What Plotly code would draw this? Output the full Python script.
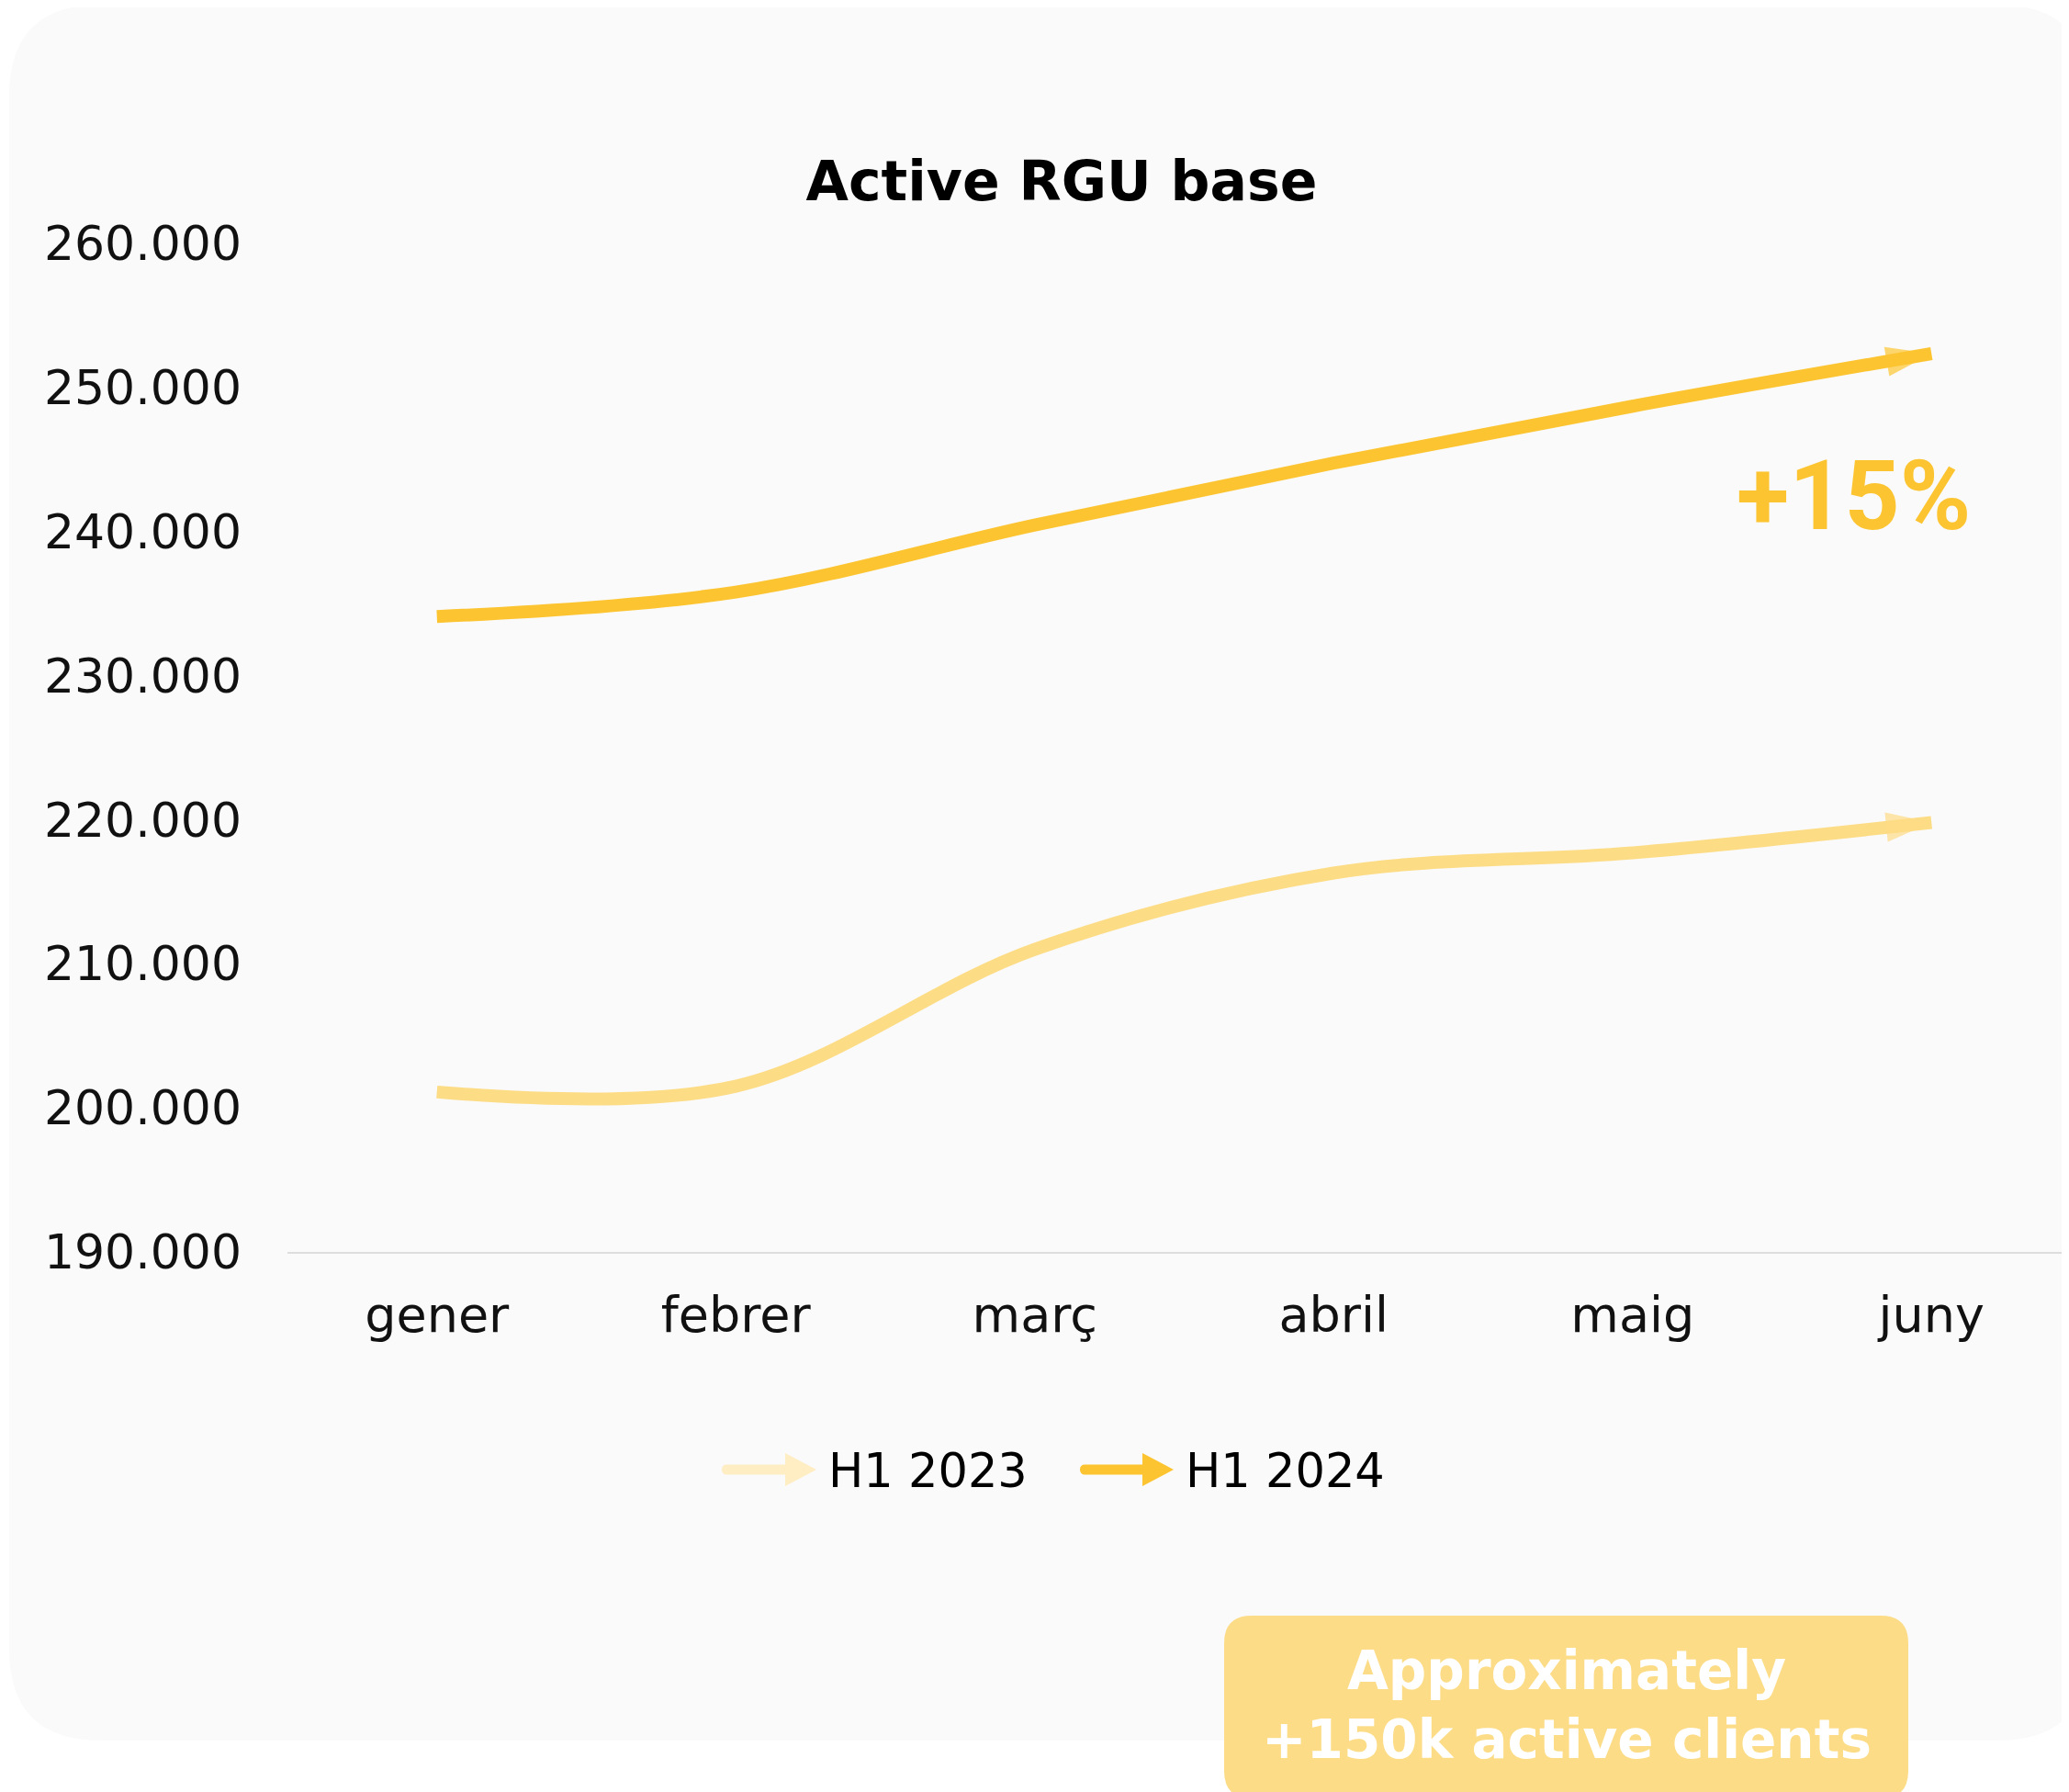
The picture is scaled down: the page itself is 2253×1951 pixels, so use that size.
import plotly.graph_objects as go

# ---------------- data ----------------
months = ["gener", "febrer", "març", "abril", "maig", "juny"]
h1_2023 = [201100, 201500, 211000, 216300, 217700, 219800]
h1_2024 = [234100, 235800, 240450, 244750, 248700, 252350]
series_names = ["H1 2023", "H1 2024"]
y_ticks = [190000, 200000, 210000, 220000, 230000, 240000, 250000, 260000]

# ---------------- geometry ----------------
OFF = 8                      # default page body margin
W, H = 2253 - OFF, 1951 - OFF
ML, MR, MT, MB = 313 - OFF, 0, 265 - OFF, 1951 - 1363
PW = W - ML - MR
PH = H - MT - MB

def px(x):                   # screen x -> paper
    return (x - OFF - ML) / PW

def py(y):                   # screen y -> paper
    return (H - MB - (y - OFF)) / PH

C2023 = "#FDDC86"
C2024 = "#FCC430"
C2023_LEG = "#FFEDC4"
FONT = "DejaVu Sans"

fig = go.Figure()
for name, vals, col in [(series_names[0], h1_2023, C2023), (series_names[1], h1_2024, C2024)]:
    fig.add_trace(go.Scatter(
        x=months, y=vals, name=name, mode="lines+markers", showlegend=False,
        line=dict(color=col, width=14, shape="spline", smoothing=1),
        marker=dict(symbol=["circle"] * 5 + ["arrow"], size=[0] * 5 + [52],
                    angleref="previous", color=col, line=dict(width=0)),
        hoverinfo="skip",
    ))

def P(x, y):
    return f"{px(x):.6f},{py(y):.6f}"

def rounded_path(x0, y0, x1, y1, r):
    return (f"M {P(x0 + r, y0)} L {P(x1 - r, y0)} Q {P(x1, y0)} {P(x1, y0 + r)} "
            f"L {P(x1, y1 - r)} Q {P(x1, y1)} {P(x1 - r, y1)} L {P(x0 + r, y1)} "
            f"Q {P(x0, y1)} {P(x0, y1 - r)} L {P(x0, y0 + r)} Q {P(x0, y0)} {P(x0 + r, y0)} Z")

def legend_arrow(x0, xb, xt, yc, t=5.5, hw=18):
    return (f"M {P(x0 + t, yc - t)} L {P(xb, yc - t)} L {P(xb, yc - hw)} L {P(xt, yc)} "
            f"L {P(xb, yc + hw)} L {P(xb, yc + t)} L {P(x0 + t, yc + t)} "
            f"Q {P(x0, yc + t)} {P(x0, yc)} Q {P(x0, yc - t)} {P(x0 + t, yc - t)} Z")

shapes = [
    dict(type="path", xref="paper", yref="paper", layer="below",
         path=rounded_path(10, 5, 2275, 1895, 100),
         fillcolor="#FAFAFA", line=dict(width=0)),
    dict(type="path", xref="paper", yref="paper", layer="above",
         path=rounded_path(1333, 1759, 2078, 1958, 30),
         fillcolor="#FCDC87", line=dict(width=0)),
    # legend keys
    dict(type="path", xref="paper", yref="paper", layer="above",
         path=legend_arrow(786, 855, 889, 1600), fillcolor=C2023_LEG, line=dict(width=0)),
    dict(type="path", xref="paper", yref="paper", layer="above",
         path=legend_arrow(1176, 1244, 1278, 1600), fillcolor=C2024, line=dict(width=0)),
]

annotations = [
    dict(xref="paper", yref="paper", x=px(2018), y=py(540), text="<b>+15%</b>",
         showarrow=False, xanchor="center", yanchor="middle",
         font=dict(family="Roboto", size=105, color=C2024)),
    dict(xref="paper", yref="paper", x=px(1706), y=py(1856),
         text="<b>Approximately<br>+150k active clients</b>",
         showarrow=False, xanchor="center", yanchor="middle",
         font=dict(family=FONT, size=58, color="#FFFFFF")),
    dict(xref="paper", yref="paper", x=px(900), y=py(1601), text=series_names[0],
         showarrow=False, xanchor="left", yanchor="middle",
         font=dict(family=FONT, size=51, color="#000000")),
    dict(xref="paper", yref="paper", x=px(1289), y=py(1601), text=series_names[1],
         showarrow=False, xanchor="left", yanchor="middle",
         font=dict(family=FONT, size=51, color="#000000")),
]

fig.update_layout(
    width=W, height=H,
    margin=dict(l=ML, r=MR, t=MT, b=MB),
    paper_bgcolor="#FFFFFF", plot_bgcolor="rgba(0,0,0,0)",
    separators=",.",
    title=dict(text="<b>Active RGU base</b>", xref="container", yref="container",
               x=(1156 - OFF) / W, y=1 - (197 - OFF) / H, xanchor="center", yanchor="middle",
               font=dict(family=FONT, size=60, color="#000000")),
    xaxis=dict(type="category", range=[-0.5, 5.46], showgrid=False, zeroline=False,
               showline=True, linecolor="#DDDDDD", linewidth=2,
               ticks="", ticklabelstandoff=20,
               tickfont=dict(family=FONT, size=54, color="#111111")),
    yaxis=dict(range=[190000, 260000], tickvals=y_ticks, tickformat=",d",
               showgrid=False, zeroline=False, showline=False, ticks="",
               ticklabelstandoff=49,
               tickfont=dict(family=FONT, size=52, color="#111111")),
    shapes=shapes,
    annotations=annotations,
    showlegend=False,
)

fig.write_html("out.html")
